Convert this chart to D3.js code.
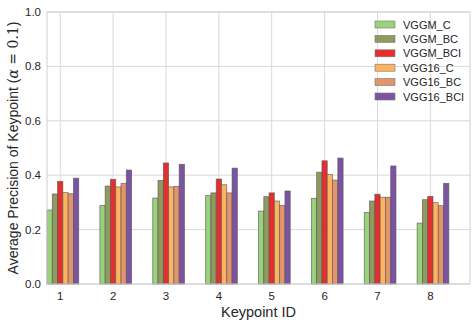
<!DOCTYPE html>
<html>
<head>
<meta charset="utf-8">
<script src="https://cdn.jsdelivr.net/npm/d3@7"></script>
<style>
  body { margin: 0; background: #fff; }
  text { font-family: "Liberation Sans", Arial, sans-serif; fill: #262626; }
</style>
</head>
<body>
<div id="chart"></div>
<script>
// keypoint ids on the x axis
var keypoints = ["1", "2", "3", "4", "5", "6", "7", "8"];
var seriesNames = ["VGGM_C", "VGGM_BC", "VGGM_BCI", "VGG16_C", "VGG16_BC", "VGG16_BCI"];
var seriesColors = ["#99d27b", "#8e9a5e", "#e52f2f", "#fdb35f", "#e2956b", "#7c52a3"];

var vggmC    = [0.272, 0.289, 0.316, 0.325, 0.268, 0.315, 0.263, 0.224];
var vggmBC   = [0.331, 0.360, 0.381, 0.335, 0.321, 0.411, 0.305, 0.310];
var vggmBCI  = [0.377, 0.385, 0.445, 0.386, 0.335, 0.453, 0.330, 0.322];
var vgg16C   = [0.336, 0.357, 0.357, 0.365, 0.305, 0.403, 0.319, 0.299];
var vgg16BC  = [0.332, 0.370, 0.359, 0.335, 0.289, 0.382, 0.319, 0.288];
var vgg16BCI = [0.389, 0.419, 0.440, 0.426, 0.342, 0.463, 0.434, 0.370];
var series = [vggmC, vggmBC, vggmBCI, vgg16C, vgg16BC, vgg16BCI];

var yTicks = [0, 0.2, 0.4, 0.6, 0.8, 1.0];

var width = 476, height = 326;
var pLeft = 47, pRight = 470, pTop = 12, pBottom = 284;
var barW = 0.1; // in data units

var svg = d3.select("#chart").append("svg")
    .attr("width", width)
    .attr("height", height);

var x = d3.scaleLinear().domain([0, 8]).range([pLeft, pRight]);
var y = d3.scaleLinear().domain([0, 1]).range([pBottom, pTop]);

// grid
svg.append("g").selectAll("line")
    .data(yTicks).enter().append("line")
    .attr("x1", pLeft).attr("x2", pRight)
    .attr("y1", function (d) { return y(d); })
    .attr("y2", function (d) { return y(d); })
    .attr("stroke", "#d9d9d9").attr("stroke-width", 1);

svg.append("g").selectAll("line")
    .data(keypoints).enter().append("line")
    .attr("x1", function (d, i) { return x(i + 0.25); })
    .attr("x2", function (d, i) { return x(i + 0.25); })
    .attr("y1", pTop).attr("y2", pBottom)
    .attr("stroke", "#d9d9d9").attr("stroke-width", 1);

// bars
series.forEach(function (vals, k) {
    svg.append("g").selectAll("rect")
        .data(vals).enter().append("rect")
        .attr("x", function (d, i) { return x(i + k * barW); })
        .attr("width", x(barW) - x(0))
        .attr("y", function (d) { return y(d); })
        .attr("height", function (d) { return y(0) - y(d); })
        .attr("fill", seriesColors[k])
        .attr("stroke", "#555")
        .attr("stroke-opacity", 0.75)
        .attr("stroke-width", 0.8);
});

// frame
svg.append("rect")
    .attr("x", pLeft).attr("y", pTop)
    .attr("width", pRight - pLeft).attr("height", pBottom - pTop)
    .attr("fill", "none").attr("stroke", "#cfcfcf").attr("stroke-width", 1);

// tick labels
svg.append("g").selectAll("text")
    .data(yTicks).enter().append("text")
    .attr("x", pLeft - 6)
    .attr("y", function (d) { return y(d) + 4; })
    .attr("text-anchor", "end")
    .style("font-size", "11.5px")
    .text(function (d) { return d3.format(".1f")(d); });

svg.append("g").selectAll("text")
    .data(keypoints).enter().append("text")
    .attr("x", function (d, i) { return x(i + 0.25); })
    .attr("y", pBottom + 16)
    .attr("text-anchor", "middle")
    .style("font-size", "11.5px")
    .text(function (d) { return d; });

// axis labels
svg.append("text")
    .attr("x", (pLeft + pRight) / 2)
    .attr("y", 317)
    .attr("text-anchor", "middle")
    .style("font-size", "14.5px")
    .text("Keypoint ID");

var yl = svg.append("text")
    .attr("transform", "translate(18," + ((pTop + pBottom) / 2) + ") rotate(-90)")
    .attr("text-anchor", "middle")
    .style("font-size", "14px");
yl.append("tspan").text("Average Precision of Keypoint (");
yl.append("tspan").style("font-family", "DejaVu Serif").style("font-style", "italic").text("α");
yl.append("tspan").style("font-family", "DejaVu Serif").text(" = 0.1");
yl.append("tspan").text(")");

// legend
var lg = svg.append("g").attr("transform", "translate(375,21)");
seriesNames.forEach(function (name, k) {
    lg.append("rect")
        .attr("x", 0).attr("y", k * 14.4)
        .attr("width", 20).attr("height", 7)
        .attr("fill", seriesColors[k])
        .attr("stroke", "#777").attr("stroke-width", 0.6);
    lg.append("text")
        .attr("x", 28).attr("y", k * 14.4 + 7.5)
        .style("font-size", "11px")
        .text(name);
});
</script>
</body>
</html>
